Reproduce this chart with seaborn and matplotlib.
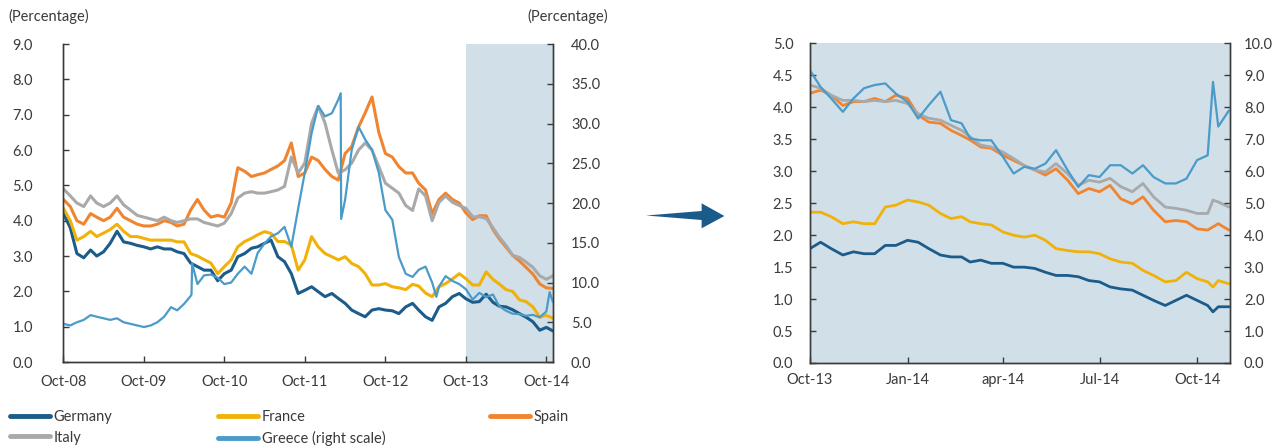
import pandas as pd
import numpy as np
import seaborn as sns
import matplotlib.pyplot as plt
from matplotlib.lines import Line2D
from matplotlib.patches import Polygon

# Colours of the series
colors = {
    "Germany": "#1b5c8b",
    "France": "#f0b20a",
    "Spain": "#ef8531",
    "Italy": "#a8a9ab",
    "Greece": "#4b9bc9",
}
shade = "#d1dfe8"
ink = "#3a3a3a"

# ---- Left panel: monthly readings, Oct-08 .. end Oct-14 ----
left_dates = list(pd.date_range("2008-10-01", "2014-10-01", freq="MS")) + [pd.Timestamp("2014-10-31")]

germany_left = [4.2, 3.8, 3.07, 2.95, 3.17, 3.0, 3.12, 3.36, 3.7, 3.4, 3.36, 3.3,
                3.26, 3.2, 3.26, 3.2, 3.2, 3.12, 3.07, 2.8, 2.7, 2.6, 2.6, 2.3,
                2.5, 2.6, 2.98, 3.07, 3.22, 3.26, 3.36, 3.45, 2.98, 2.84, 2.5, 1.94,
                2.03, 2.13, 1.99, 1.85, 1.94, 1.8, 1.66, 1.47, 1.37, 1.28, 1.47, 1.51,
                1.47, 1.45, 1.37, 1.56, 1.66, 1.47, 1.28, 1.18, 1.56, 1.66, 1.85, 1.94,
                1.79, 1.69, 1.71, 1.92, 1.69, 1.58, 1.56, 1.48, 1.37, 1.27, 1.14, 0.9, 0.98,
                0.88]
france_left = [4.35, 4.0, 3.45, 3.55, 3.7, 3.55, 3.65, 3.75, 3.9, 3.7, 3.55, 3.55,
               3.5, 3.45, 3.45, 3.45, 3.45, 3.4, 3.4, 3.07, 3.0, 2.9, 2.8, 2.5,
               2.7, 2.89, 3.26, 3.41, 3.5, 3.6, 3.69, 3.64, 3.41, 3.41, 3.31, 2.6,
               2.89, 3.55, 3.26, 3.07, 2.98, 2.89, 2.98, 2.79, 2.7, 2.5, 2.18, 2.18,
               2.22, 2.13, 2.1, 2.05, 2.2, 2.15, 1.95, 1.85, 2.13, 2.22, 2.35, 2.5,
               2.36, 2.18, 2.18, 2.55, 2.34, 2.21, 2.05, 2.0, 1.76, 1.71, 1.56, 1.27, 1.32,
               1.24]
spain_left = [4.6, 4.4, 4.0, 3.9, 4.2, 4.1, 4.0, 4.1, 4.35, 4.1, 4.0, 3.9,
              3.85, 3.85, 3.9, 4.0, 3.95, 3.85, 3.9, 4.3, 4.6, 4.3, 4.1, 4.15,
              4.1, 4.5, 5.5, 5.4, 5.25, 5.3, 5.35, 5.45, 5.55, 5.7, 6.2, 5.25,
              5.35, 5.8, 5.7, 5.45, 5.25, 5.15, 5.9, 6.1, 6.65, 7.05, 7.5, 6.5,
              5.9, 5.8, 5.53, 5.35, 5.35, 5.06, 4.87, 4.2, 4.6, 4.78, 4.6, 4.5,
              4.22, 4.03, 4.14, 4.14, 3.75, 3.49, 3.25, 3.02, 2.86, 2.68, 2.49, 2.21, 2.1,
              2.08]
italy_left = [4.9, 4.7, 4.5, 4.4, 4.7, 4.5, 4.4, 4.5, 4.7, 4.45, 4.3, 4.15,
              4.1, 4.05, 4.0, 4.1, 4.0, 3.95, 4.0, 4.05, 4.05, 3.95, 3.9, 3.85,
              3.93, 4.2, 4.64, 4.78, 4.82, 4.78, 4.78, 4.82, 4.87, 4.97, 5.8, 5.35,
              5.63, 6.76, 7.24, 6.76, 6.0, 5.35, 5.44, 5.63, 6.0, 6.2, 6.0, 5.53,
              5.06, 4.92, 4.78, 4.43, 4.29, 4.9, 4.7, 4.0, 4.52, 4.7, 4.52, 4.43,
              4.35, 4.11, 4.11, 4.06, 3.8, 3.54, 3.3, 3.02, 2.96, 2.83, 2.68, 2.44, 2.34,
              2.44]
greece_left = [4.8, 4.6, 5.0, 5.3, 5.9, 5.7, 5.5, 5.3, 5.5, 5.0, 4.8, 4.6,
               4.4, 4.6, 5.0, 5.7, 6.9, 6.5, 7.3, 8.3, 9.8, 10.9, 11.0, 10.6,
               9.8, 10.0, 11.1, 12.0, 11.1, 13.7, 14.9, 15.8, 16.2, 17.0, 14.5, 19.3,
               23.8, 28.8, 32.2, 30.9, 31.3, 33.0, 20.4, 26.7, 29.6, 28.0, 26.7, 23.8,
               19.1, 17.9, 13.2, 11.1, 10.7, 11.6, 12.0, 10.0, 9.5, 10.8, 10.2, 9.8,
               9.16, 7.86, 8.7, 8.17, 8.49, 7.03, 6.45, 6.08, 6.03, 5.82, 5.93, 5.62, 6.35,
               7.55]
# extra Greek readings around the sharp moves
greece_extra_dates = pd.to_datetime(["2010-05-05", "2010-05-08", "2012-03-12", "2012-03-14",
                                     "2013-05-20", "2014-10-16"])
greece_extra = [8.5, 12.4, 33.8, 18.0, 8.2, 8.8]

# ---- Right panel: readings every ten days, Oct-13 .. end Oct-14 ----
right_dates = pd.to_datetime([
    "2013-10-01", "2013-10-11", "2013-10-21", "2013-11-01", "2013-11-11", "2013-11-21",
    "2013-12-01", "2013-12-11", "2013-12-21", "2014-01-01", "2014-01-11", "2014-01-21",
    "2014-02-01", "2014-02-11", "2014-02-21", "2014-03-01", "2014-03-11", "2014-03-21",
    "2014-04-01", "2014-04-11", "2014-04-21", "2014-05-01", "2014-05-11", "2014-05-21",
    "2014-06-01", "2014-06-11", "2014-06-21", "2014-07-01", "2014-07-11", "2014-07-21",
    "2014-08-01", "2014-08-11", "2014-08-21", "2014-09-01", "2014-09-11", "2014-09-21",
    "2014-10-01", "2014-10-11", "2014-10-16", "2014-10-21", "2014-10-31"])

germany_right = [1.79, 1.89, 1.79, 1.69, 1.74, 1.71, 1.71, 1.84, 1.84, 1.92, 1.89, 1.79,
                 1.69, 1.66, 1.66, 1.58, 1.61, 1.56, 1.56, 1.5, 1.5, 1.48, 1.42, 1.37,
                 1.37, 1.35, 1.29, 1.27, 1.19, 1.16, 1.14, 1.06, 0.98, 0.9, 0.98, 1.06,
                 0.98, 0.9, 0.8, 0.88, 0.88]
france_right = [2.36, 2.36, 2.29, 2.18, 2.21, 2.18, 2.18, 2.44, 2.47, 2.55, 2.52, 2.47,
                2.34, 2.26, 2.29, 2.21, 2.18, 2.16, 2.05, 2.0, 1.97, 2.0, 1.92, 1.79,
                1.76, 1.74, 1.74, 1.71, 1.63, 1.58, 1.56, 1.45, 1.37, 1.27, 1.29, 1.42,
                1.32, 1.27, 1.19, 1.29, 1.24]
spain_right = [4.22, 4.27, 4.19, 4.03, 4.09, 4.09, 4.14, 4.09, 4.19, 4.14, 3.88, 3.77,
               3.75, 3.64, 3.56, 3.49, 3.38, 3.36, 3.25, 3.17, 3.09, 3.02, 2.94, 3.04,
               2.86, 2.65, 2.73, 2.68, 2.78, 2.57, 2.49, 2.6, 2.39, 2.21, 2.23, 2.21,
               2.1, 2.08, 2.13, 2.18, 2.08]
italy_right = [4.35, 4.3, 4.19, 4.11, 4.11, 4.09, 4.11, 4.09, 4.11, 4.06, 3.9, 3.83,
               3.8, 3.72, 3.64, 3.54, 3.41, 3.38, 3.3, 3.2, 3.09, 3.02, 2.99, 3.12,
               2.96, 2.78, 2.86, 2.83, 2.89, 2.76, 2.68, 2.81, 2.6, 2.44, 2.42, 2.39,
               2.34, 2.34, 2.55, 2.52, 2.44]
greece_right = [9.16, 8.64, 8.28, 7.86, 8.28, 8.6, 8.7, 8.75, 8.43, 8.17, 7.65, 8.07,
                8.49, 7.6, 7.5, 7.03, 6.97, 6.97, 6.45, 5.93, 6.14, 6.08, 6.24, 6.66,
                6.03, 5.51, 5.88, 5.82, 6.19, 6.19, 5.93, 6.19, 5.82, 5.62, 5.62, 5.77,
                6.35, 6.5, 8.8, 7.4, 7.9]

left_ticks = pd.to_datetime(["2008-10-01", "2009-10-01", "2010-10-01", "2011-10-01",
                             "2012-10-01", "2013-10-01", "2014-10-01"])
left_labels = ["Oct-08", "Oct-09", "Oct-10", "Oct-11", "Oct-12", "Oct-13", "Oct-14"]
right_ticks = pd.to_datetime(["2013-10-01", "2014-01-01", "2014-04-01", "2014-07-01", "2014-10-01"])
right_labels = ["Oct-13", "Jan-14", "apr-14", "Jul-14", "Oct-14"]

main = ["Germany", "France", "Spain", "Italy"]
left_df = pd.DataFrame({"date": left_dates, "Germany": germany_left, "France": france_left,
                        "Spain": spain_left, "Italy": italy_left})
left_long = left_df.melt(id_vars="date", var_name="country", value_name="yield")
greece_left_df = pd.DataFrame({"date": list(left_dates) + list(greece_extra_dates),
                               "yield": greece_left + greece_extra}).sort_values("date")
right_df = pd.DataFrame({"date": right_dates, "Germany": germany_right, "France": france_right,
                         "Spain": spain_right, "Italy": italy_right})
right_long = right_df.melt(id_vars="date", var_name="country", value_name="yield")

sns.set_theme(style="white")
plt.rcParams['font.family'] = ['Lato', 'DejaVu Sans']
fs = 10.5

fig = plt.figure(figsize=(12.82, 4.46), dpi=100)


def style_axes(ax, axb, lpad, rpad, xpad):
    for a in (ax, axb):
        a.spines["top"].set_visible(False)
        for s in ("left", "right", "bottom"):
            a.spines[s].set_color(ink)
            a.spines[s].set_linewidth(1.0)
        a.set_xlabel("")
        a.set_ylabel("")
    ax.tick_params(axis="y", direction="in", length=4, width=1, color=ink,
                   labelsize=fs, labelcolor=ink, pad=lpad, left=True)
    axb.tick_params(axis="y", direction="in", length=4, width=1, color=ink,
                    labelsize=fs, labelcolor=ink, pad=rpad, right=True)
    ax.tick_params(axis="x", direction="in", length=4, width=1, color=ink,
                   labelsize=fs, labelcolor=ink, pad=xpad, bottom=True)


# Left panel
ax1 = fig.add_axes([0.0495, 0.1883, 0.3818, 0.713])
ax1.axvspan(pd.Timestamp("2013-10-01"), pd.Timestamp("2014-10-31"), color=shade, lw=0, zorder=0)
sns.lineplot(data=left_long, x="date", y="yield", hue="country", hue_order=main,
             palette=colors, lw=2.2, legend=False, ax=ax1)
ax1b = ax1.twinx()
sns.lineplot(data=greece_left_df, x="date", y="yield", color=colors["Greece"], lw=1.6, ax=ax1b)
ax1.set_xlim(pd.Timestamp("2008-10-01"), pd.Timestamp("2014-10-31"))
ax1.set_ylim(0, 9)
ax1b.set_ylim(0, 40)
ax1.set_yticks(np.arange(0, 9.1, 1.0))
ax1.set_yticklabels([f"{v:.1f}" for v in np.arange(0, 9.1, 1.0)])
ax1b.set_yticks(np.arange(0, 40.1, 5.0))
ax1b.set_yticklabels([f"{v:.1f}" for v in np.arange(0, 40.1, 5.0)])
ax1.set_xticks(left_ticks)
ax1.set_xticklabels(left_labels)
style_axes(ax1, ax1b, 22, 13, 9)

# Right panel
ax2 = fig.add_axes([0.6318, 0.1861, 0.3276, 0.7164])
ax2.set_facecolor(shade)
sns.lineplot(data=right_long, x="date", y="yield", hue="country", hue_order=main,
             palette=colors, lw=2.0, legend=False, ax=ax2)
ax2b = ax2.twinx()
sns.lineplot(x=right_dates, y=greece_right, color=colors["Greece"], lw=1.6, ax=ax2b)
ax2.set_xlim(pd.Timestamp("2013-10-01"), pd.Timestamp("2014-11-01"))
ax2.set_ylim(0, 5)
ax2b.set_ylim(0, 10)
ax2.set_yticks(np.arange(0, 5.01, 0.5))
ax2.set_yticklabels([f"{v:.1f}" for v in np.arange(0, 5.01, 0.5)])
ax2b.set_yticks(np.arange(0, 10.1, 1.0))
ax2b.set_yticklabels([f"{v:.1f}" for v in np.arange(0, 10.1, 1.0)])
ax2.set_xticks(right_ticks)
ax2.set_xticklabels(right_labels)
style_axes(ax2, ax2b, 12, 10, 7)

# Axis unit captions
fig.text(8 / 1282, 1 - 16 / 446, "(Percentage)", fontsize=fs, color=ink, va="center", ha="left")
fig.text(608 / 1282, 1 - 16 / 446, "(Percentage)", fontsize=fs, color=ink, va="center", ha="right")

# Arrow between the panels (pixel coordinates, converted to inches)
arrow_px = [(646, 215.5), (701.6, 211), (701.6, 203.3), (724.4, 216), (701.6, 228.3), (701.6, 220)]
arrow_in = [(x / 100, (446 - y) / 100) for x, y in arrow_px]
fig.add_artist(Polygon(arrow_in, closed=True, transform=fig.dpi_scale_trans,
                       facecolor="#1a5b8c", edgecolor="none"))

# Legend, three columns placed under the left panel
def handle(name):
    return Line2D([], [], color=colors[name], lw=3.5)

columns = [
    (10, ["Germany", "Italy"]),
    (218, ["France", "Greece"]),
    (490, ["Spain"]),
]
names = {"Greece": "Greece (right scale)"}
for xpx, items in columns:
    fig.legend([handle(n) for n in items], [names.get(n, n) for n in items],
               loc="upper left", bbox_to_anchor=(xpx / 1282, 1 - 410 / 446),
               bbox_transform=fig.transFigure, frameon=False, fontsize=fs,
               handlelength=2.75, handletextpad=0.25, borderpad=0, borderaxespad=0,
               labelspacing=0.45, labelcolor=ink)

fig.savefig("out.png", dpi=100)
